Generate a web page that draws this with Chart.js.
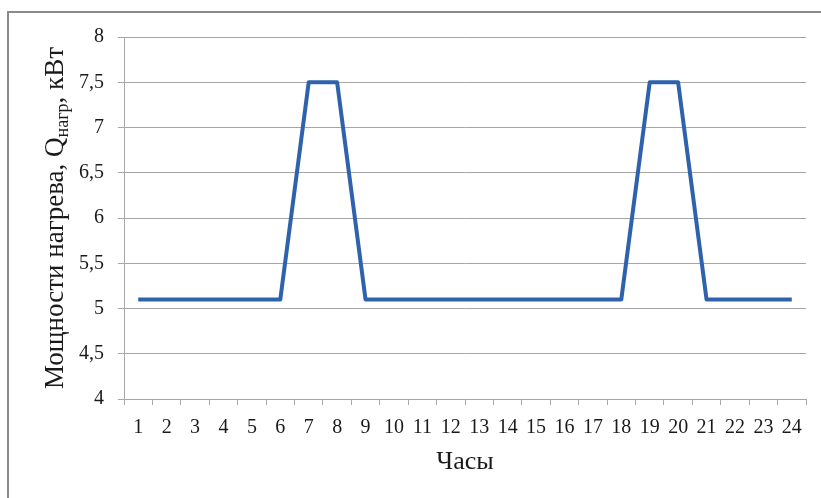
<!DOCTYPE html>
<html>
<head>
<meta charset="utf-8">
<script src="https://cdn.jsdelivr.net/npm/chart.js@4.4.1/dist/chart.umd.min.js"></script>
<style>
  html, body { margin: 0; padding: 0; background: #fff; overflow: hidden; }
  #wrap { position: relative; width: 821px; height: 498px; }
  #frame {
    position: absolute; left: 7px; top: 11px; width: 900px; height: 600px;
    border: 2px solid #8a8a8a; box-sizing: border-box;
  }
  canvas { position: absolute; left: 0; top: 0; }
</style>
</head>
<body>
<div id="wrap">
  <div id="frame"></div>
  <canvas id="chart" width="821" height="498"></canvas>
</div>
<script>
// hours on the x axis
const hours = ['1','2','3','4','5','6','7','8','9','10','11','12',
               '13','14','15','16','17','18','19','20','21','22','23','24'];
// heating power, kW
const heatPower = [5.1, 5.1, 5.1, 5.1, 5.1, 5.1, 7.5, 7.5, 5.1, 5.1, 5.1, 5.1,
                   5.1, 5.1, 5.1, 5.1, 5.1, 5.1, 7.5, 7.5, 5.1, 5.1, 5.1, 5.1];
const yTicks = [4, 4.5, 5, 5.5, 6, 6.5, 7, 7.5, 8];

const SERIF = '"Liberation Serif", "Times New Roman", serif';
const GRID = '#a6a6a6';

// y title has a subscript, so draw it by hand
const yTitlePlugin = {
  id: 'yTitle',
  afterDraw(chart) {
    const ctx = chart.ctx;
    const parts = [
      { t: 'Мощности нагрева, Q', size: 27, dy: 0 },
      { t: 'нагр', size: 18, dy: 5 },
      { t: ', кВт', size: 27, dy: 0 }
    ];
    ctx.save();
    let total = 0;
    parts.forEach(p => {
      ctx.font = p.size + 'px ' + SERIF;
      p.w = ctx.measureText(p.t).width;
      total += p.w;
    });
    ctx.translate(63, 218);
    ctx.rotate(-Math.PI / 2);
    ctx.fillStyle = '#1a1a1a';
    ctx.textBaseline = 'alphabetic';
    let x = -total / 2;
    parts.forEach(p => {
      ctx.font = p.size + 'px ' + SERIF;
      ctx.fillText(p.t, x, p.dy);
      x += p.w;
    });
    ctx.restore();
  }
};

Chart.defaults.font.family = SERIF;
Chart.defaults.color = '#1a1a1a';

new Chart(document.getElementById('chart'), {
  type: 'line',
  data: {
    labels: hours,
    datasets: [{
      data: heatPower,
      borderColor: '#2f62ad',
      borderWidth: 4,
      pointRadius: 0,
      tension: 0,
      fill: false,
      borderJoinStyle: 'round',
      borderCapStyle: 'butt'
    }]
  },
  options: {
    responsive: false,
    animation: false,
    layout: { padding: { left: 0, top: 37, right: 15, bottom: 0 } },
    plugins: { legend: { display: false }, tooltip: { enabled: false } },
    scales: {
      x: {
        offset: true,
        grid: {
          offset: true, drawOnChartArea: false, drawTicks: true,
          tickLength: 6, color: GRID
        },
        border: { color: GRID, width: 1 },
        ticks: { font: { size: 20 }, padding: 11, maxRotation: 0, autoSkip: false },
        title: {
          display: true, text: 'Часы',
          font: { size: 26 }, padding: { top: 4, bottom: 20 }
        },
        afterFit(scale) { scale.height = 99; }
      },
      y: {
        min: 4,
        max: 8,
        afterBuildTicks(scale) { scale.ticks = yTicks.map(v => ({ value: v })); },
        grid: { color: GRID, tickLength: 6 },
        border: { color: GRID, width: 1 },
        ticks: {
          font: { size: 20 }, padding: 14,
          callback: v => String(v).replace('.', ',')
        },
        afterFit(scale) { scale.width = 124; }
      }
    }
  },
  plugins: [yTitlePlugin]
});
</script>
</body>
</html>
